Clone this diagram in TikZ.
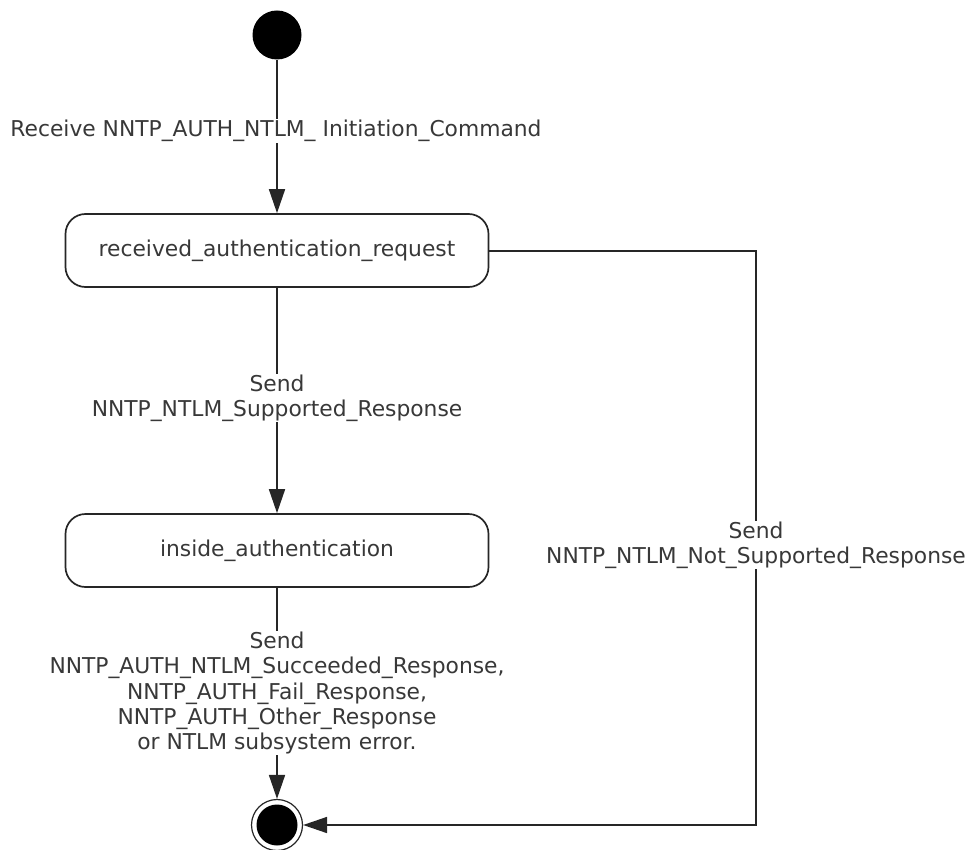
\documentclass[tikz,border=0pt]{standalone}
\usepackage{fontspec}
\setmainfont{DejaVu Sans}
\usetikzlibrary{arrows.meta}
\begin{document}
\begin{tikzpicture}[x=1pt,y=-1pt,
  line width=1.7pt,
  draw=black!85,
  txt/.style={font=\fontsize{21.8}{25}\selectfont, text=black!78},
  state/.style={draw=black!85, rounded corners=20pt, minimum width=423pt, minimum height=73pt, inner sep=0pt, txt},
  lbl/.style={fill=white, align=center, inner sep=1pt, txt},
  arr/.style={draw=black!85, -{Triangle[length=24pt,width=16pt]}},
]
\useasboundingbox (0,0) rectangle (968,850);
\node[circle, fill=black, minimum size=49pt, inner sep=0pt] (start) at (277,35) {};
\node[state] (req) at (277,250.5) {received\_authentication\_request};
\node[state] (ins) at (277,550.5) {inside\_authentication};
\node[circle, draw=black!85, line width=1.2pt, minimum size=51pt, inner sep=0pt] (end) at (277,825) {};
\node[circle, fill=black, minimum size=41pt, inner sep=0pt] (endin) at (end.center) {};
\coordinate (corner1) at (756,251);
\coordinate (corner2) at (756,825);

\draw[arr] (start) -- (req);
\draw[arr] (req) -- (ins);
\draw[arr] (ins) -- (end);
\draw[arr] (req.east |- corner1) -- (corner1) -- (corner2) -- (end.east);

\node[lbl] (l1) at (276,131) {Receive NNTP\_AUTH\_NTLM\_ Initiation\_Command};
\node[lbl] (l2) at (277,398) {Send\\NNTP\_NTLM\_Supported\_Response};
\node[lbl] (l3) at (756,545) {Send\\NNTP\_NTLM\_Not\_Supported\_Response};
\node[lbl, font=\fontsize{21.8}{25.3}\selectfont] (l4) at (277,693) {Send\\NNTP\_AUTH\_NTLM\_Succeeded\_Response,\\NNTP\_AUTH\_Fail\_Response,\\NNTP\_AUTH\_Other\_Response\\or NTLM subsystem error.};
\end{tikzpicture}
\end{document}
